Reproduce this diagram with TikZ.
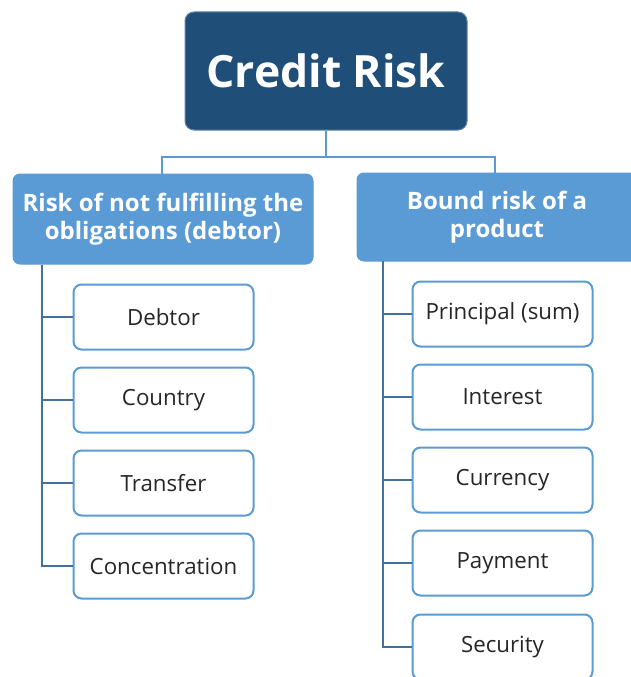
\documentclass[tikz,border=0pt]{standalone}
\usepackage{fontspec}
\setmainfont{Open Sans}
\definecolor{darkblue}{HTML}{1F4E79}
\definecolor{midblue}{HTML}{5B9BD5}
\definecolor{trunkblue}{HTML}{41719C}
\tikzset{
  topbox/.style={rectangle, rounded corners=9pt, fill=darkblue, draw=darkblue!70!white, line width=1pt,
    minimum width=282pt, minimum height=118pt, text=white, font=\bfseries\fontsize{44.5}{52}\selectfont},
  headbox/.style={rectangle, rounded corners=7pt, fill=midblue, draw=midblue, line width=1pt,
    text=white, align=center, font=\bfseries\fontsize{24}{28}\selectfont, inner sep=0pt},
  leafbox/.style={rectangle, rounded corners=8pt, fill=white, draw=midblue, line width=2pt,
    minimum width=180pt, minimum height=65pt, text=black!85, font=\fontsize{22.3}{26}\selectfont},
  link/.style={draw=midblue, line width=1.3pt},
  trunk/.style={draw=trunkblue, line width=2.7pt}
}
\begin{document}
\begin{tikzpicture}[x=1pt,y=-1pt]
\useasboundingbox (0,0) rectangle (631,677);
\clip (0,0) rectangle (631,677);
\node[topbox] (top) at (326,71) {Credit Risk};
\node[headbox, minimum width=300pt, minimum height=90pt] (L) at (163,219) {Risk of not fulfilling the\\obligations (debtor)};
\node[headbox, minimum width=300pt, minimum height=88pt] (R) at (507,217) {};
\node[headbox] (Rt) at (497,217) {Bound risk of a\\product};
\coordinate (mid) at (326,157);
\draw[link] (top.south) -- (mid);
\draw[link] (162,175) |- (mid) -| (495,175);

\node[leafbox] (d1) at (163.5,317) {Debtor};
\node[leafbox] (d2) at (163.5,400) {Country};
\node[leafbox] (d3) at (163.5,483) {Transfer};
\node[leafbox] (d4) at (163.5,566) {Concentration};

\node[leafbox] (p1) at (502.5,314) {Principal (sum)};
\node[leafbox] (p2) at (502.5,397) {Interest};
\node[leafbox] (p3) at (502.5,480) {Currency};
\node[leafbox] (p4) at (502.5,563) {Payment};
\node[leafbox] (p5) at (502.5,647) {Security};

\coordinate (Lt) at (42,265);
\coordinate (Rtk) at (383,261);
\draw[trunk] (Lt) |- (d4.west);
\foreach \n in {d1,d2,d3} \draw[trunk] (Lt |- \n.west) -- (\n.west);
\draw[trunk] (Rtk) |- (p5.west);
\foreach \n in {p1,p2,p3,p4} \draw[trunk] (Rtk |- \n.west) -- (\n.west);
\end{tikzpicture}
\end{document}
